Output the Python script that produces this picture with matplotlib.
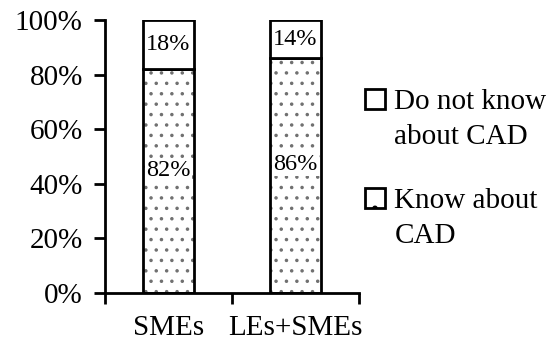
import matplotlib
matplotlib.use("Agg")
import matplotlib.pyplot as plt
from matplotlib.patches import Rectangle
from matplotlib.legend_handler import HandlerPatch
import numpy as np

plt.rcParams['font.family'] = ['Liberation Serif', 'DejaVu Serif']

groups = ["SMEs", "LEs+SMEs"]
know = [82, 86]
not_know = [18, 14]
series_labels = ["Do not know\nabout CAD", "Know about\nCAD"]
y_ticks = [0, 20, 40, 60, 80, 100]

# a higher dpi makes the dot hatch a bit sparser; sizes below are scaled to match
DPI = 125
S = 100 / DPI
plt.rcParams['hatch.linewidth'] = 1.0 * S


def square_handle(legend, orig_handle, xdescent, ydescent, width, height, fontsize):
    side = 0.66 * fontsize
    lift = 0.7 * fontsize
    return Rectangle((-xdescent, -ydescent + (height - side) / 2 + lift), side * 1.05, side)


fig = plt.figure(figsize=(557 / DPI, 350 / DPI), dpi=DPI)
ax = fig.add_axes([0.1885, 0.163, 0.456, 0.78])

x = np.arange(len(groups)) + 0.5
width = 0.4

# dotted lower part: hatch drawn in grey, outline drawn separately in black
ax.bar(x, know, width, color="white", edgecolor="#707070", hatch="..", linewidth=0)
ax.bar(x, know, width, fill=False, edgecolor="black", linewidth=2 * S)
ax.bar(x, not_know, width, bottom=know, color="white", edgecolor="black", linewidth=2 * S)

for xi, k, n in zip(x, know, not_know):
    ax.text(xi, k / 2 + 4, f"{k}%", ha="center", va="center", fontsize=17.5 * S,
            bbox=dict(facecolor="white", edgecolor="none", pad=0.5))
    ax.text(xi, k + n / 2, f"{n}%", ha="center", va="center", fontsize=17.5 * S)

ax.set_xlim(0, len(groups))
ax.set_ylim(0, 100)
ax.set_xticks(np.arange(len(groups) + 1))
ax.set_xticklabels([])
ax.set_xticks(x, minor=True)
ax.set_xticklabels(groups, minor=True, fontsize=21 * S)
ax.tick_params(axis="x", which="minor", length=0, pad=16 * S)
ax.tick_params(axis="x", which="major", direction="out", length=8 * S, width=2 * S)
ax.set_yticks(y_ticks)
ax.set_yticklabels([f"{v}%" for v in y_ticks], fontsize=21 * S)
ax.tick_params(axis="y", direction="out", length=8 * S, width=2 * S, pad=8 * S)

for side in ["top", "right"]:
    ax.spines[side].set_visible(False)
for side in ["left", "bottom"]:
    ax.spines[side].set_linewidth(2 * S)

h1 = Rectangle((0, 0), 1, 1, facecolor="white", edgecolor="black", linewidth=2 * S)
h2 = Rectangle((0, 0), 1, 1, facecolor="white", edgecolor="black", linewidth=2 * S, hatch=".")
leg = fig.legend([h1, h2], series_labels, loc="upper left",
                 bbox_to_anchor=(0.6085, 0.82), frameon=False, fontsize=21 * S,
                 handlelength=0.7, handletextpad=0.3, labelspacing=1.32,
                 handler_map={Rectangle: HandlerPatch(patch_func=square_handle)})
for t in leg.get_texts():
    t.set_linespacing(1.43)

fig.savefig("out.png", dpi=DPI, facecolor="white")
